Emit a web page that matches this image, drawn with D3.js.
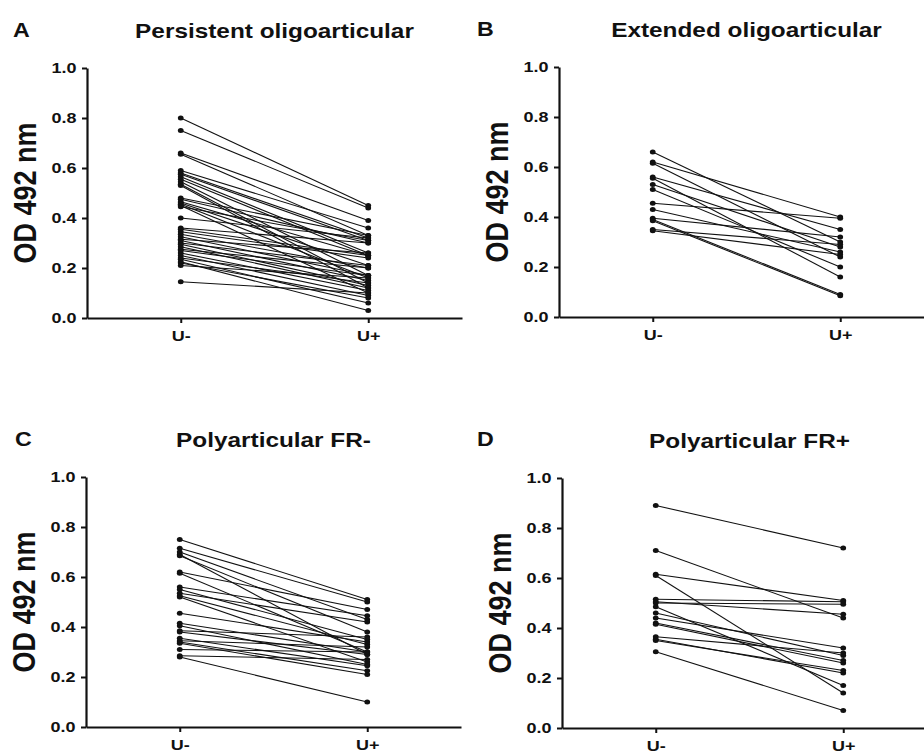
<!DOCTYPE html>
<html>
<head>
<meta charset="utf-8">
<script src="https://cdnjs.cloudflare.com/ajax/libs/d3/7.8.5/d3.min.js"></script>
<style>
  body { margin: 0; background: #fff; }
  text { font-family: "Liberation Sans", Arial, Helvetica, sans-serif; font-weight: bold; fill: #111; }
</style>
</head>
<body>
<script>
// categories and tick labels
var categories = ["U-", "U+"];
var yTicks = [0.0, 0.2, 0.4, 0.6, 0.8, 1.0];
var panelLetters = ["A", "B", "C", "D"];
var panelTitles = ["Persistent oligoarticular", "Extended oligoarticular", "Polyarticular FR-", "Polyarticular FR+"];
var yLabel = "OD 492 nm";

// paired values, U- then U+ (same index = same sample)
var persistentUminus = [0.80, 0.75, 0.66, 0.655, 0.59, 0.58, 0.575, 0.565, 0.555, 0.545, 0.535, 0.53,
  0.48, 0.475, 0.465, 0.46, 0.455, 0.45, 0.445, 0.40, 0.36, 0.355, 0.345, 0.335, 0.325, 0.315,
  0.31, 0.30, 0.295, 0.285, 0.275, 0.27, 0.26, 0.25, 0.24, 0.235, 0.225, 0.22, 0.21, 0.145];
var persistentUplus = [0.45, 0.44, 0.39, 0.33, 0.36, 0.32, 0.31, 0.26, 0.25, 0.17, 0.14, 0.12,
  0.33, 0.30, 0.25, 0.21, 0.16, 0.10, 0.31, 0.32, 0.30, 0.25, 0.24, 0.20, 0.17, 0.26,
  0.15, 0.21, 0.13, 0.12, 0.20, 0.17, 0.11, 0.09, 0.14, 0.06, 0.03, 0.08, 0.16, 0.10];

var extendedUminus = [0.66, 0.62, 0.615, 0.56, 0.555, 0.53, 0.51, 0.455, 0.43, 0.395, 0.39, 0.385, 0.35, 0.345];
var extendedUplus = [0.30, 0.40, 0.24, 0.35, 0.16, 0.28, 0.20, 0.395, 0.26, 0.32, 0.09, 0.085, 0.29, 0.25];

var polyNegUminus = [0.75, 0.715, 0.70, 0.69, 0.685, 0.62, 0.615, 0.56, 0.55, 0.535, 0.525, 0.52,
  0.455, 0.415, 0.405, 0.385, 0.38, 0.355, 0.345, 0.34, 0.335, 0.31, 0.285, 0.28];
var polyNegUplus = [0.51, 0.50, 0.43, 0.29, 0.38, 0.47, 0.30, 0.445, 0.35, 0.42, 0.33, 0.26,
  0.34, 0.30, 0.25, 0.36, 0.29, 0.245, 0.32, 0.225, 0.21, 0.30, 0.27, 0.10];

var polyPosUminus = [0.89, 0.71, 0.615, 0.61, 0.515, 0.505, 0.50, 0.485, 0.46, 0.44, 0.42, 0.415, 0.365, 0.355, 0.35, 0.305];
var polyPosUplus = [0.72, 0.44, 0.51, 0.14, 0.505, 0.455, 0.495, 0.17, 0.29, 0.32, 0.27, 0.26, 0.30, 0.22, 0.23, 0.07];

var seriesMinus = [persistentUminus, extendedUminus, polyNegUminus, polyPosUminus];
var seriesPlus = [persistentUplus, extendedUplus, polyNegUplus, polyPosUplus];

// layout of the four panels (origin = top-left of plot area)
var plotW = 375;
var plotH = 250;
var panels = [
  { x: 87, y: 68, letterX: 13, letterY: 37 },
  { x: 559, y: 67, letterX: 477, letterY: 36 },
  { x: 86, y: 477, letterX: 15, letterY: 446 },
  { x: 562, y: 478, letterX: 477, letterY: 446 }
];
var stretch = 1.16; // the figure's lettering is a bit wide

var svg = d3.select("body")
  .append("svg")
  .attr("width", 924)
  .attr("height", 756);

var xScale = d3.scalePoint()
  .domain(categories)
  .range([0, plotW])
  .padding(0.5);

var yScale = d3.scaleLinear()
  .domain([0, 1])
  .range([plotH, 0]);

var line = d3.line()
  .x(d => xScale(d.cat))
  .y(d => yScale(d.value));

panels.forEach(function (p, i) {
  var g = svg.append("g")
    .attr("transform", `translate(${p.x}, ${p.y})`);

  // pairs for this panel
  var pairs = seriesMinus[i].map(function (v, j) {
    return [{ cat: "U-", value: v }, { cat: "U+", value: seriesPlus[i][j] }];
  });

  g.selectAll(".pair")
    .data(pairs)
    .enter()
    .append("path")
    .attr("class", "pair")
    .attr("d", line)
    .attr("fill", "none")
    .attr("stroke", "#111")
    .attr("stroke-width", 1.1);

  var points = pairs.flat();
  g.selectAll(".dot")
    .data(points)
    .enter()
    .append("ellipse")
    .attr("class", "dot")
    .attr("cx", d => xScale(d.cat))
    .attr("cy", d => yScale(d.value))
    .attr("rx", 2.5 * stretch)
    .attr("ry", 2.5)
    .attr("fill", "#111");

  // axes
  var leftAxis = d3.axisLeft(yScale)
    .tickValues(yTicks)
    .tickFormat(d3.format(".1f"))
    .tickSize(5)
    .tickSizeOuter(0)
    .tickPadding(4);

  var bottomAxis = d3.axisBottom(xScale)
    .tickSize(5)
    .tickSizeOuter(0)
    .tickPadding(7);

  var yAxis = g.append("g").call(leftAxis);
  var xAxis = g.append("g")
    .attr("transform", `translate(0, ${plotH})`)
    .call(bottomAxis);

  [yAxis, xAxis].forEach(function (ax) {
    ax.select(".domain").attr("stroke", "#111").attr("stroke-width", 2.2);
    ax.selectAll(".tick line").attr("stroke", "#111").attr("stroke-width", 2);
    ax.selectAll(".tick text")
      .attr("font-size", "15.5px")
      .attr("fill", "#111")
      .attr("font-family", "'Liberation Sans', Arial, sans-serif")
      .attr("font-weight", "bold")
      .attr("transform", `scale(${stretch},1)`);
  });

  // title
  svg.append("text")
    .attr("transform", `translate(${p.x + plotW / 2}, ${p.y - 30}) scale(${stretch},1)`)
    .attr("text-anchor", "middle")
    .attr("font-size", "21px")
    .text(panelTitles[i]);

  // panel letter
  svg.append("text")
    .attr("transform", `translate(${p.letterX}, ${p.letterY}) scale(${stretch},1)`)
    .attr("font-size", "20px")
    .text(panelLetters[i]);

  // y label
  svg.append("text")
    .attr("transform", `translate(${p.x - 51}, ${p.y + plotH / 2}) scale(${stretch},1) rotate(-90)`)
    .attr("text-anchor", "middle")
    .attr("font-size", "27px")
    .text(yLabel);
});
</script>
</body>
</html>
